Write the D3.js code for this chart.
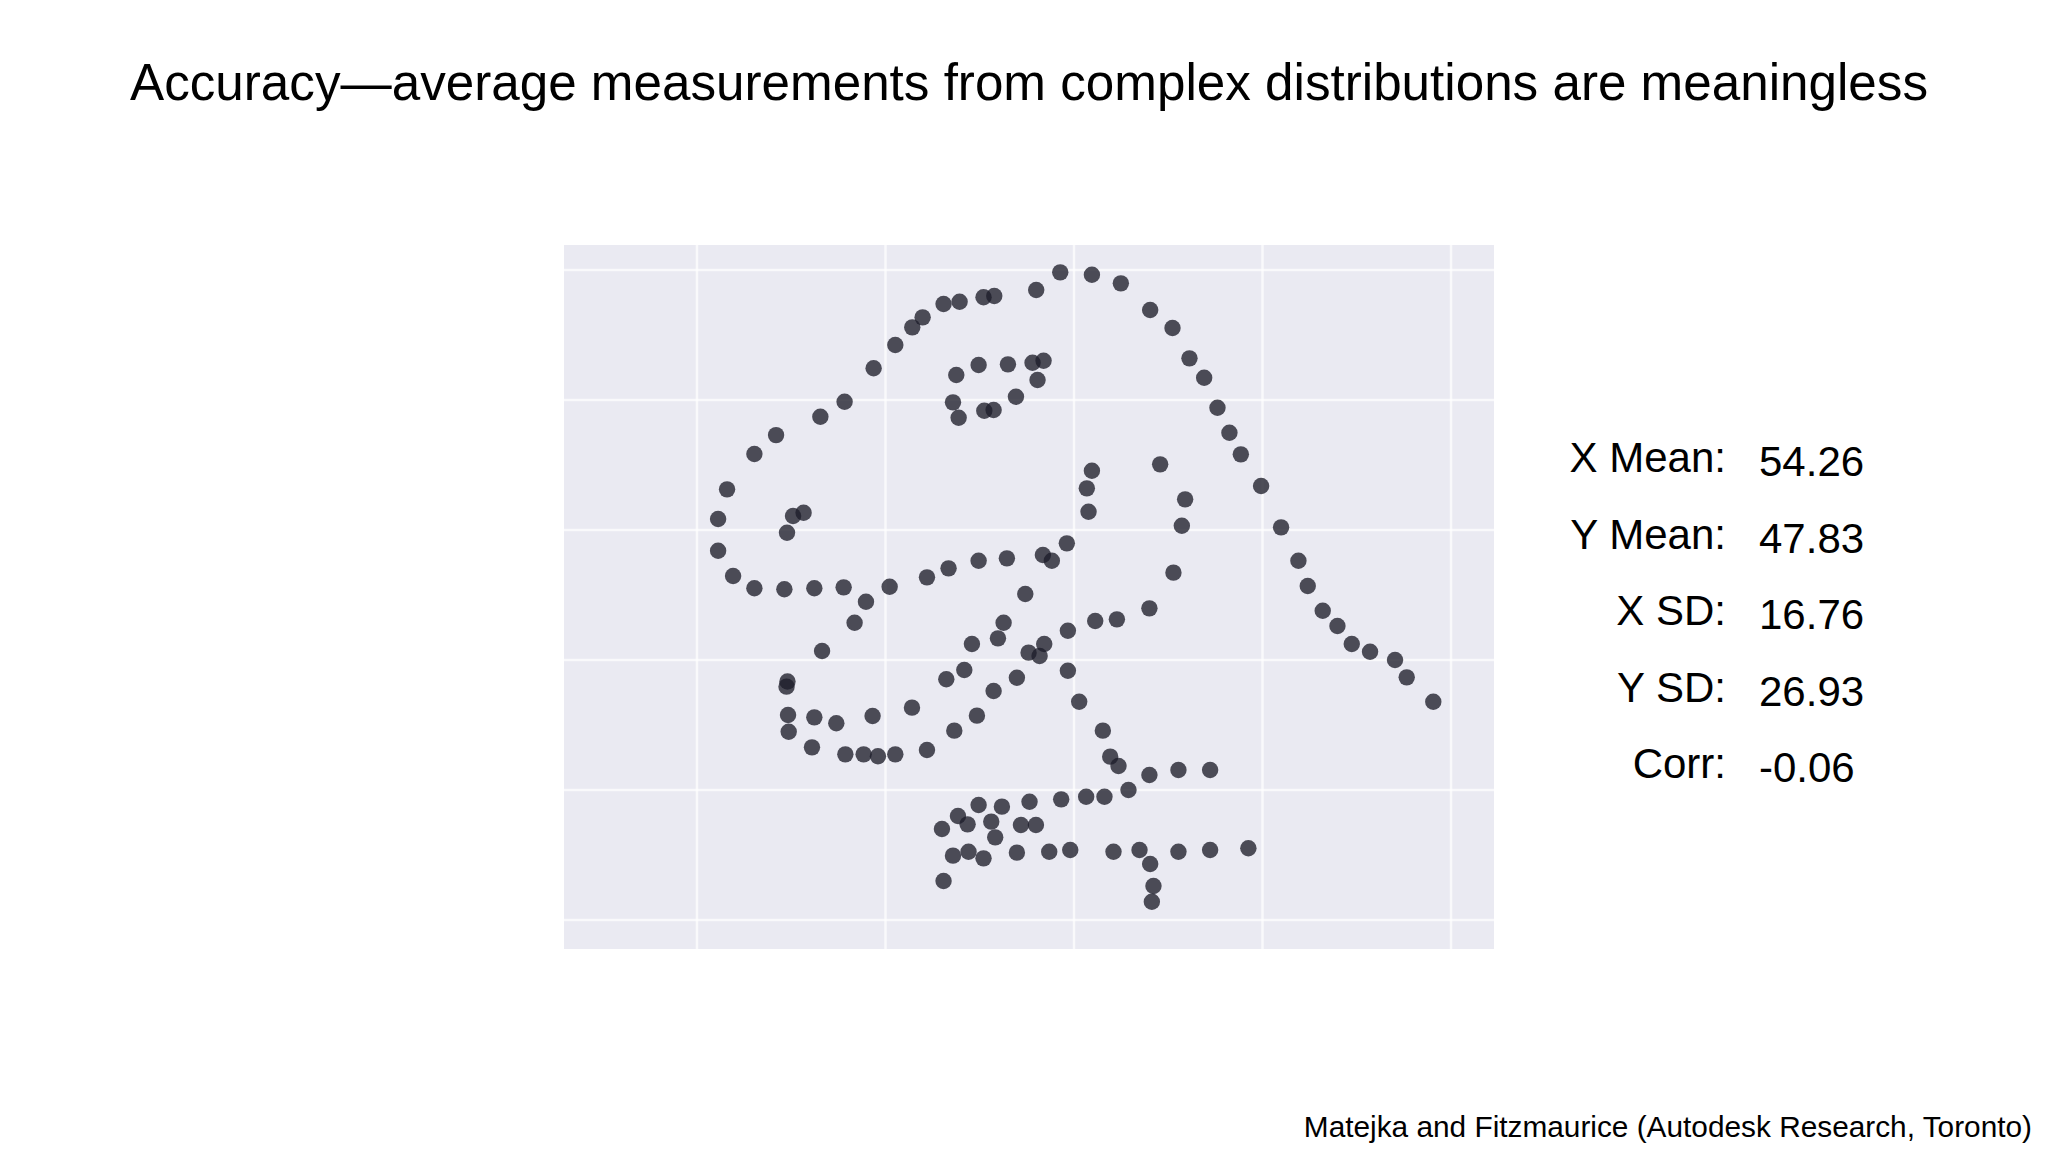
<!DOCTYPE html>
<meta charset="utf-8">
<style>
body { margin: 0; background: #fff; }
text { font-family: "Liberation Sans", Arial, sans-serif; fill: #000; }
.grid line { stroke: #fff; stroke-width: 2.5px; stroke-opacity: 0.7; }
.dot { fill: #1e1e2a; fill-opacity: 0.78; }
</style>
<body>
<svg id="chart" width="2048" height="1152"></svg>

<script src="https://d3js.org/d3.v7.min.js"></script>
<script>

// points (x, y in data units)
var dinoX = [38.74, 35.66, 33.09, 28.39, 26.09, 23.19, 22.24, 22.24, 23.83, 26.09,
  29.27, 32.45, 35.56, 31.31, 30.19, 29.55, 58.54, 61.9, 64.97, 55.99,
  51.54, 50.4, 47.86, 46.16, 43.94, 42.84, 41.04, 68.08, 70.45, 72.25,
  49.88, 52.99, 55.6, 56.77, 47.51, 56.13, 53.84, 47.16, 50.48, 51.47,
  47.76, 61.9, 61.36, 61.54, 69.14, 71.79, 71.44, 70.55, 59.24, 56.7,
  57.65, 52.88, 49.88, 46.69, 44.4, 40.44, 54.83, 73.81, 75.22, 76.49,
  77.7, 79.85, 81.97, 83.81, 84.8, 86.39, 87.95, 89.47, 91.41, 94.06,
  95.3, 98.12, 74.44, 74.44, 78.5, 37.93, 36.72, 33.27, 29.6, 29.5,
  29.66, 29.73, 32.45, 34.78, 38.63, 32.2, 35.74, 37.68, 39.2, 41.04,
  44.4, 68.0, 64.55, 62.25, 59.35, 52.53, 51.93, 49.17, 56.84, 55.18,
  56.35, 59.35, 53.94, 48.36, 46.45, 51.47, 60.55, 42.81, 49.7, 47.3,
  63.06, 63.84, 64.72, 68.0, 71.08, 65.78, 63.23, 61.29, 58.64, 55.28,
  52.35, 49.88, 47.69, 48.71, 45.99, 51.22, 51.64, 54.37, 55.96, 47.16,
  48.81, 50.4, 53.94, 57.37, 59.6, 64.19, 66.95, 68.08, 71.08, 68.43,
  68.26, 46.16];
var dinoY = [84.88, 79.74, 77.43, 74.6, 71.69, 66.26, 61.69, 56.82, 52.92, 51.03,
  50.88, 51.03, 51.18, 62.66, 62.15, 59.58, 99.64, 99.28, 97.95, 96.92,
  96.0, 95.8, 95.12, 94.77, 92.72, 91.18, 88.46, 93.85, 91.08, 86.41,
  85.38, 85.49, 85.74, 86.05, 83.85, 83.08, 80.51, 79.64, 78.36, 78.46,
  77.28, 69.13, 66.41, 62.82, 70.1, 64.72, 60.66, 53.44, 57.95, 56.15,
  55.28, 55.64, 55.28, 54.1, 52.72, 51.28, 50.15, 83.43, 78.82, 74.97,
  71.64, 66.77, 60.41, 55.28, 51.38, 47.59, 45.23, 42.46, 41.28, 40.0,
  37.33, 33.59, 23.08, 10.77, 11.03, 48.97, 45.74, 41.38, 36.7, 35.9,
  31.54, 28.97, 31.18, 30.26, 31.38, 26.56, 25.49, 25.49, 25.2, 25.49,
  26.15, 47.95, 46.26, 46.0, 44.51, 45.74, 43.33, 42.46, 42.46, 41.13,
  40.62, 38.36, 37.28, 38.46, 37.03, 35.23, 33.59, 32.67, 31.44, 29.13,
  29.13, 25.13, 23.69, 22.31, 23.08, 20.0, 18.97, 18.97, 18.56, 18.2,
  17.44, 17.69, 16.0, 14.72, 14.0, 15.13, 12.72, 14.62, 14.62, 9.9,
  10.51, 9.49, 10.36, 10.51, 10.77, 10.51, 10.77, 8.62, 10.51, 5.23,
  2.82, 6.0];

var xTicks = [20, 40, 60, 80, 100];
var yTicks = [0, 20, 40, 60, 80, 100];

var statLabels = ["X Mean:", "Y Mean:", "X SD:", "Y SD:", "Corr:"];
var statValues = ["54.26", "47.83", "16.76", "26.93", "-0.06"];

var titleText = "Accuracy\u2014average measurements from complex distributions are meaningless";
var sourceText = "Matejka and Fitzmaurice (Autodesk Research, Toronto)";

var svg = d3.select("#chart");

// plot box
var box = {left: 564, right: 1494, top: 245, bottom: 949};

var x = d3.scaleLinear().domain([5.89, 104.56]).range([box.left, box.right]);
var y = d3.scaleLinear().domain([-4.46, 103.85]).range([box.bottom, box.top]);

svg.append("rect")
    .attr("x", box.left)
    .attr("y", box.top)
    .attr("width", box.right - box.left)
    .attr("height", box.bottom - box.top)
    .style("fill", "#eaeaf2");

var grid = svg.append("g").attr("class", "grid");

grid.selectAll("line.v")
  .data(xTicks)
  .enter().append("line")
    .attr("class", "v")
    .attr("x1", function(d) { return x(d); })
    .attr("x2", function(d) { return x(d); })
    .attr("y1", box.top)
    .attr("y2", box.bottom);

grid.selectAll("line.h")
  .data(yTicks)
  .enter().append("line")
    .attr("class", "h")
    .attr("x1", box.left)
    .attr("x2", box.right)
    .attr("y1", function(d) { return y(d); })
    .attr("y2", function(d) { return y(d); });

// the dots
svg.append("g")
  .selectAll("circle")
  .data(dinoX)
  .enter().append("circle")
    .attr("class", "dot")
    .attr("cx", function(d) { return x(d); })
    .attr("cy", function(d, i) { return y(dinoY[i]); })
    .attr("r", 8.2);

// title
svg.append("text")
    .attr("x", 1029)
    .attr("y", 100)
    .attr("text-anchor", "middle")
    .style("font-size", "51.2px")
    .text(titleText);

// summary stats
svg.selectAll("text.lab")
  .data(statLabels)
  .enter().append("text")
    .attr("class", "lab")
    .attr("x", 1726)
    .attr("y", function(d, i) { return 472 + i * 76.5; })
    .attr("text-anchor", "end")
    .style("font-size", "42px")
    .text(function(d) { return d; });

svg.selectAll("text.val")
  .data(statValues)
  .enter().append("text")
    .attr("class", "val")
    .attr("x", 1759)
    .attr("y", function(d, i) { return 476 + i * 76.5; })
    .style("font-size", "42px")
    .text(function(d) { return d; });

// source
svg.append("text")
    .attr("x", 2032)
    .attr("y", 1137)
    .attr("text-anchor", "end")
    .style("font-size", "29.8px")
    .text(sourceText);

</script>
</body>
